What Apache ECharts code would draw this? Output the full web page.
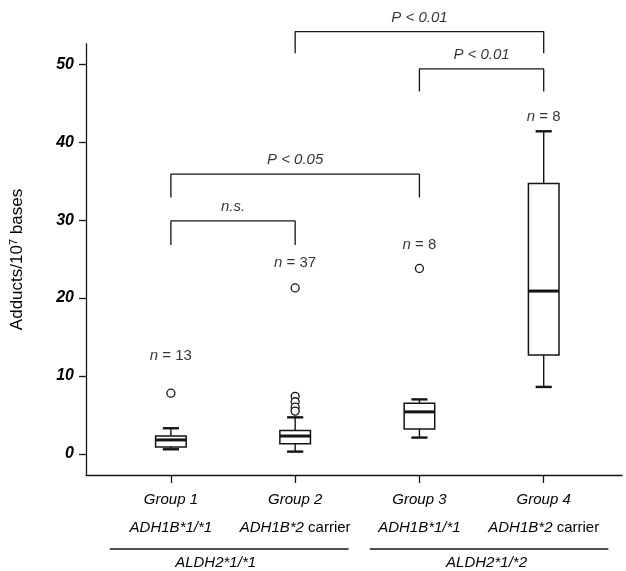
<!DOCTYPE html>
<html>
<head>
<meta charset="utf-8">
<script src="https://cdn.jsdelivr.net/npm/echarts@6/dist/echarts.min.js"></script>
<style>
html,body{margin:0;padding:0;background:#fff;}
#chart{width:626px;height:571px;}
</style>
</head>
<body>
<div id="chart"></div>
<script>
// ---- data ----
const categories = ['Group 1', 'Group 2', 'Group 3', 'Group 4'];
const adh1b = ['ADH1B*1/*1', 'ADH1B*2 carrier', 'ADH1B*1/*1', 'ADH1B*2 carrier'];
const aldh2 = ['ALDH2*1/*1', 'ALDH2*1/*2'];
const boxMin    = [0.6, 0.3, 2.1, 8.6];
const boxQ1     = [0.9, 1.3, 3.2, 12.7];
const boxMedian = [1.8, 2.3, 5.4, 20.9];
const boxQ3     = [2.3, 3.0, 6.5, 34.7];
const boxMax    = [3.3, 4.7, 7.0, 41.4];
const outlierGroup = [1, 2, 2, 2, 2, 2, 3];
const outlierValue = [7.8, 21.3, 7.4, 6.7, 6.0, 5.5, 23.8];
const nCounts = [13, 37, 8, 8];
const nLabelY = [12.6, 24.5, 26.8, 43.2];
const yTicks = [0, 10, 20, 30, 40, 50];
// comparisons between groups
const compFrom  = [1, 1, 3, 2];
const compTo    = [2, 3, 4, 4];
const compLabel = ['n.s.', 'P < 0.05', 'P < 0.01', 'P < 0.01'];
const compBarY  = [29.9, 35.9, 49.4, 54.2];
const compLegY  = [26.8, 32.9, 46.5, 51.4];

// ---- chart ----
const INK = '#000';
const LINE = '#141414';
const FONT = '"Liberation Sans", Arial, sans-serif';
const chart = echarts.init(document.getElementById('chart'), null, {renderer: 'canvas'});

const boxData = categories.map((c, i) => [i + 1, boxMin[i], boxQ1[i], boxMedian[i], boxQ3[i], boxMax[i]]);
const outlierData = outlierGroup.map((g, i) => [g, outlierValue[i]]);
const nData = nCounts.map((n, i) => ({value: [i + 1, nLabelY[i]], n: n}));
const compLabelData = compFrom.map((f, i) => ({value: [(f + compTo[i]) / 2, compBarY[i]], txt: compLabel[i]}));

const series = [];
series.push({
  type: 'custom',
  data: boxData,
  clip: false,
  renderItem: function (params, api) {
    const x = api.value(0);
    const bw = api.size([0.246, 0])[0];
    const cw = api.size([0.13, 0])[0];
    const pMin = api.coord([x, api.value(1)]);
    const pQ1 = api.coord([x, api.value(2)]);
    const pMed = api.coord([x, api.value(3)]);
    const pQ3 = api.coord([x, api.value(4)]);
    const pMax = api.coord([x, api.value(5)]);
    const cx = pMin[0];
    const ls = {stroke: LINE, lineWidth: 1.4, fill: null};
    return {
      type: 'group',
      children: [
        {type: 'line', shape: {x1: cx, y1: pMax[1], x2: cx, y2: pQ3[1]}, style: ls},
        {type: 'line', shape: {x1: cx, y1: pMin[1], x2: cx, y2: pQ1[1]}, style: ls},
        {type: 'line', shape: {x1: cx - cw / 2, y1: pMax[1], x2: cx + cw / 2, y2: pMax[1]}, style: {stroke: LINE, lineWidth: 2.4}},
        {type: 'line', shape: {x1: cx - cw / 2, y1: pMin[1], x2: cx + cw / 2, y2: pMin[1]}, style: {stroke: LINE, lineWidth: 2.4}},
        {type: 'rect', shape: {x: cx - bw / 2, y: pQ3[1], width: bw, height: pQ1[1] - pQ3[1]}, style: {stroke: LINE, lineWidth: 1.5, fill: '#fff'}},
        {type: 'line', shape: {x1: cx - bw / 2, y1: pMed[1], x2: cx + bw / 2, y2: pMed[1]}, style: {stroke: LINE, lineWidth: 3}}
      ]
    };
  }
});
series.push({
  type: 'scatter',
  data: outlierData,
  symbol: 'circle',
  symbolSize: 8,
  itemStyle: {color: '#fff', borderColor: LINE, borderWidth: 1.3, opacity: 1},
  z: 5
});
series.push({
  type: 'scatter',
  data: nData,
  symbolSize: 0,
  clip: false,
  silent: true,
  label: {
    show: true,
    position: [0, 0],
    align: 'center',
    verticalAlign: 'middle',
    formatter: function (p) { return '{i|n}{r| = ' + p.data.n + '}'; },
    rich: {
      i: {fontStyle: 'italic', fontFamily: FONT, fontSize: 15, color: INK},
      r: {fontFamily: FONT, fontSize: 15, color: INK}
    }
  }
});
series.push({
  type: 'scatter',
  data: compLabelData,
  symbolSize: 0,
  clip: false,
  silent: true,
  label: {
    show: true,
    position: [0, -14],
    align: 'center',
    verticalAlign: 'middle',
    formatter: function (p) { return '{i|' + p.data.txt + '}'; },
    rich: {i: {fontStyle: 'italic', fontFamily: FONT, fontSize: 15, color: INK}}
  }
});
compFrom.forEach((f, i) => {
  const t = compTo[i];
  series.push({
    type: 'line',
    data: [[f, compLegY[i]], [f, compBarY[i]], [t, compBarY[i]], [t, compLegY[i]]],
    symbol: 'none',
    clip: false,
    silent: true,
    lineStyle: {color: LINE, width: 1.3}
  });
});

chart.setOption({
  animation: false,
  backgroundColor: '#fff',
  grid: {left: 79, right: 4, top: 44, bottom: 96},
  xAxis: {
    type: 'value',
    min: 0.317, max: 4.63,
    splitLine: {show: false},
    axisLine: {show: true, onZero: false, lineStyle: {color: LINE, width: 1.3}},
    axisTick: {show: true, length: 8, lineStyle: {color: LINE, width: 1.3}, customValues: [1, 2, 3, 4]},
    axisLabel: {
      customValues: [1, 2, 3, 4],
      margin: 11,
      formatter: function (v) {
        const i = Math.round(v) - 1;
        const g = adh1b[i];
        let second;
        if (g.indexOf(' carrier') >= 0) {
          second = '{a|' + g.replace(' carrier', '') + '}{b| carrier}';
        } else {
          second = '{a|' + g + '}';
        }
        return '{g|' + categories[i] + '}\n' + second;
      },
      rich: {
        g: {fontFamily: FONT, fontSize: 15, fontStyle: 'italic', color: INK, lineHeight: 28, align: 'center'},
        a: {fontFamily: FONT, fontSize: 15, fontStyle: 'italic', color: INK, lineHeight: 28},
        b: {fontFamily: FONT, fontSize: 15, color: INK, lineHeight: 28}
      }
    }
  },
  yAxis: {
    type: 'value',
    min: -2.7, max: 52.6,
    splitLine: {show: false},
    axisLine: {show: true, onZero: false, lineStyle: {color: LINE, width: 1.3}},
    axisTick: {show: true, length: 7, lineStyle: {color: LINE, width: 1.3}, customValues: yTicks},
    axisLabel: {
      customValues: yTicks,
      margin: 12,
      fontFamily: FONT, fontSize: 16, fontStyle: 'italic', fontWeight: 'bold', color: INK
    },
    name: '{t|Adducts/10}{s|7}{t| bases}',
    nameLocation: 'middle',
    nameRotate: 90,
    nameGap: 59,
    nameTextStyle: {
      rich: {
        t: {fontFamily: FONT, fontSize: 17, color: INK},
        s: {fontFamily: FONT, fontSize: 11, color: INK, verticalAlign: 'top', padding: [0, 0, 8, 0]}
      }
    }
  },
  series: series
});

// ALDH2 genotype brackets under the x axis
function xpx(v) { return chart.convertToPixel({xAxisIndex: 0}, v); }
const axisY = chart.convertToPixel({yAxisIndex: 0}, -2.7);
const spans = [[0.508, 2.43, 1.36], [2.60, 4.52, 3.54]];
const graphics = [];
spans.forEach((s, i) => {
  graphics.push({type: 'line', shape: {x1: xpx(s[0]), y1: axisY + 74, x2: xpx(s[1]), y2: axisY + 74}, style: {stroke: LINE, lineWidth: 1.3}});
  graphics.push({type: 'text', x: xpx(s[2]), y: axisY + 88, style: {text: aldh2[i], font: 'italic 15px ' + FONT, fill: INK, textAlign: 'center', textVerticalAlign: 'middle'}});
});
chart.setOption({graphic: graphics});
</script>
</body>
</html>
